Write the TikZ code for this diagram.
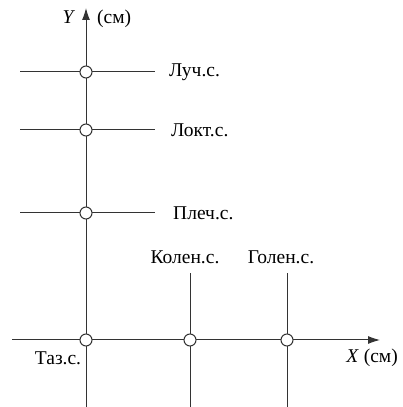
\documentclass[tikz,border=0pt]{standalone}
\usepackage{fontspec}
\setmainfont{Liberation Serif}
\usepackage{tikz}
\usetikzlibrary{arrows.meta, positioning, calc}
\definecolor{axisgray}{HTML}{333333}

\begin{document}
\begin{tikzpicture}[x=1pt, y=1pt,
    seg/.style={axisgray, line width=1pt},
    joint/.style={circle, draw=axisgray, line width=1pt, fill=white, minimum size=12pt, inner sep=0pt},
    lbl/.style={font=\fontsize{19.5}{22}\selectfont, inner sep=0pt, text=black}]
        \useasboundingbox (0,0) rectangle (402,407);
        % axes
        \coordinate (ybot) at (86,0);
        \coordinate (ytop) at (86,399);
        \coordinate (xlft) at (12,67);
        \coordinate (xrgt) at (380,67);
        \draw[seg, -{Latex[length=12pt, width=8pt]}] (ybot) -- (ytop);
        \draw[seg, -{Latex[length=12pt, width=8pt]}] (xlft) -- (xrgt);
        % horizontal segments through the upper joints
        \foreach \nm/\yy in {wrist/335, elbow/277, shoulder/194} {
          \coordinate (\nm L) at (20,\yy);
          \coordinate (\nm R) at (155,\yy);
          \draw[seg] (\nm L) -- (\nm R);
        }
        % vertical segments through the lower joints
        \foreach \nm/\xx in {knee/190, shin/287} {
          \coordinate (\nm B) at (\xx,0);
          \coordinate (\nm T) at (\xx,134);
          \draw[seg] (\nm B) -- (\nm T);
        }
        % joints
        \node[joint] (pwrist) at (86,335) {};
        \node[joint] (pelbow) at (86,277) {};
        \node[joint] (pshoulder) at (86,194) {};
        \node[joint] (phip) at (86,67) {};
        \node[joint] (pknee) at (190,67) {};
        \node[joint] (pshin) at (287,67) {};
        % labels
        \node[lbl, anchor=west] (twrist) at (169,335) {Луч.с.};
        \node[lbl, anchor=west] (telbow) at (171,277) {Локт.с.};
        \node[lbl, anchor=west] (tshoulder) at (173,194) {Плеч.с.};
        \node[lbl] (tknee) at (185,150) {Колен.с.};
        \node[lbl] (tshin) at (281,150) {Голен.с.};
        \node[lbl] (thip) at (58,49) {Таз.с.};
        \node[lbl, anchor=east] (txaxis) at (398,49) {\textit{X} (см)};
        \node[lbl] (tyaxis) at (69,390) {\textit{Y}};
        \node[lbl, anchor=west] (tyunit) at (97,388) {(см)};
      \end{tikzpicture}
\end{document}
